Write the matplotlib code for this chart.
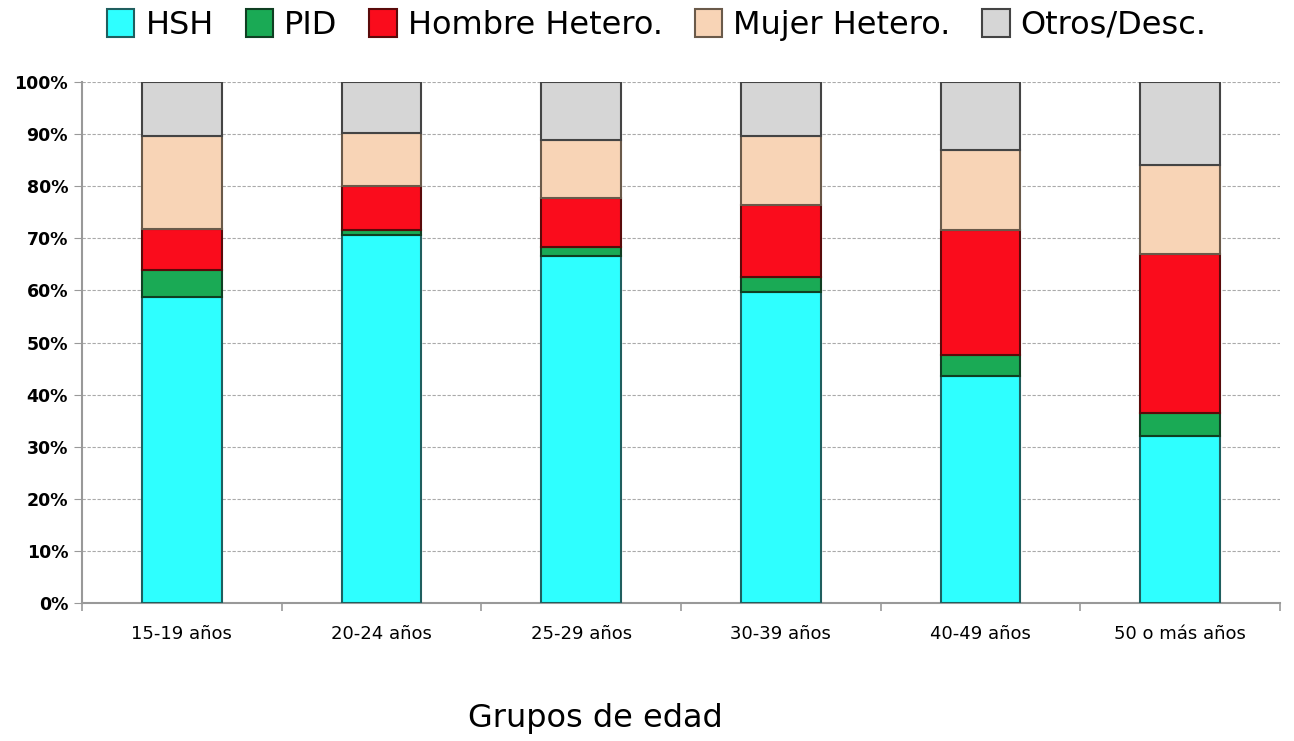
import matplotlib
matplotlib.use("Agg")
import matplotlib.pyplot as plt
import numpy as np
from matplotlib.ticker import PercentFormatter, FixedLocator

categories = ["15-19 años", "20-24 años", "25-29 años", "30-39 años", "40-49 años", "50 o más años"]
series_names = ["HSH", "PID", "Hombre Hetero.", "Mujer Hetero.", "Otros/Desc."]
hsh = [58.8, 70.6, 66.6, 59.6, 43.6, 32.1]
pid = [5.1, 1.0, 1.8, 3.0, 4.0, 4.4]
hombre = [7.9, 8.5, 9.3, 13.8, 23.9, 30.5]
mujer = [17.8, 10.2, 11.2, 13.3, 15.5, 17.1]
otros = [10.4, 9.7, 11.1, 10.3, 13.0, 15.9]
colors = ["#2EFFFF", "#1AAA55", "#FA0C1C", "#F8D4B6", "#D6D6D6"]
edges = ["#1f5f5f", "#0f3f22", "#5a0a0a", "#6a5a4a", "#444444"]

fig = plt.figure(figsize=(12.94, 7.41), dpi=100)
ax = fig.add_axes([82/1294, 1-603/741, (1280-82)/1294, (603-82)/741])

x = np.arange(len(categories))
bottom = np.zeros(len(categories))
handles = []
for name, vals, c, e in zip(series_names, [hsh, pid, hombre, mujer, otros], colors, edges):
    vals = np.array(vals)
    b = ax.bar(x, vals, 0.4, bottom=bottom, color=c, edgecolor=e, linewidth=1.5, label=name, zorder=3)
    handles.append(b)
    bottom += vals

ax.set_xlim(-0.5, len(categories) - 0.5)
ax.set_ylim(0, 100)
ax.yaxis.set_major_locator(FixedLocator(np.arange(0, 101, 10)))
ax.yaxis.set_major_formatter(PercentFormatter(decimals=0))
ax.grid(axis="y", linestyle=(0, (3, 1.5)), color="#aaaaaa", linewidth=0.8, zorder=0)
ax.set_axisbelow(True)
for s in ["top", "right"]:
    ax.spines[s].set_visible(False)
for s in ["left", "bottom"]:
    ax.spines[s].set_color("#999999")
    ax.spines[s].set_linewidth(1.5)
ax.tick_params(axis="y", direction="out", length=6, color="#999999", labelsize=12.5, pad=4)
for lab in ax.get_yticklabels():
    lab.set_fontweight("bold")
    lab.set_family("DejaVu Sans")
ax.set_xticks(x)
ax.set_xticklabels(categories, fontsize=13, family="DejaVu Sans")
ax.tick_params(axis="x", length=0, pad=16)
ax.set_xticks(np.arange(-0.5, len(categories), 1.0), minor=True)
ax.tick_params(axis="x", which="minor", length=6, color="#999999", width=1.2)

fig.text(595/1294, 1-718/741, "Grupos de edad", ha="center", va="center", fontsize=23, family="DejaVu Sans")

leg = fig.legend(handles=handles, labels=series_names, loc="center", bbox_to_anchor=(657/1294, 1-25/741),
                 ncol=5, frameon=False, handlelength=0.85, handleheight=0.95,
                 handletextpad=0.35, columnspacing=1.0, prop={"family": "DejaVu Sans", "size": 23})

fig.savefig("out.png", dpi=100)
